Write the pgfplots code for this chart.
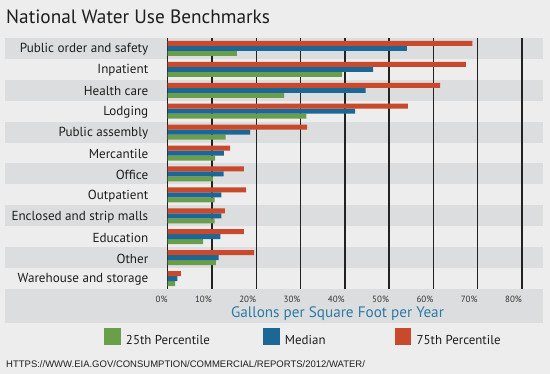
\documentclass[border=0pt]{standalone}
\usepackage{pgfplots}
\pgfplotsset{compat=1.18}
\usepackage{fontspec}
\setmainfont{PT Sans}
\newfontfamily\urlfont{Liberation Sans}
\definecolor{bg}{HTML}{EDEDED}
\definecolor{band}{HTML}{DCDDDE}
\definecolor{cred}{HTML}{C8492C}
\definecolor{cblue}{HTML}{1B6796}
\definecolor{cgreen}{HTML}{6B9E4A}
\definecolor{labblue}{HTML}{2C7AA6}
\definecolor{gridc}{HTML}{222222}
\definecolor{txt}{HTML}{1E1E1E}

\pgfplotstableread{
y  g     b     r
11 15.6  54.0  68.8
10 39.4  46.4  67.3
9  26.3  44.7  61.5
8  31.3  42.3  54.2
7  13.1  18.6  31.5
6  10.7  12.7  14.1
5  10.2  12.6  17.2
4  10.6  12.1  17.7
3  10.6  12.1  12.9
2  8.0   11.9  17.2
1  10.9  11.5  19.5
0  1.7   2.2   3.0
}\datatable

\begin{document}
\begin{tikzpicture}
\path[use as bounding box, fill=bg] (0,0) rectangle (550pt,374pt);
% alternating row bands
\foreach \k in {0,2,4,6,8,10}{
  \fill[band] (5pt,{(336-20.9167*(\k+1))*1pt}) rectangle (542.7pt,{(336-20.9167*\k)*1pt});
}
\fill[band] (5pt,51.3pt) rectangle (542.7pt,85pt);
\node[anchor=base west, inner sep=0pt, font=\fontsize{19.3}{24}\selectfont, text=txt] at (6pt,350pt) {National Water Use Benchmarks};
\node[anchor=base west, inner sep=0pt, font=\urlfont\fontsize{9.5}{11}\selectfont, text=txt] at (6pt,6.7pt) {HTTPS://WWW.EIA.GOV/CONSUMPTION/COMMERCIAL/REPORTS/2012/WATER/};
\begin{axis}[
  at={(167.7pt,85pt)}, anchor=south west, scale only axis,
  width=375pt, height=251pt,
  xmin=0, xmax=84.65, ymin=-0.5, ymax=11.5,
  xbar, bar width=5pt, clip=false,
  axis line style={draw=none}, tick style={draw=none},
  xtick={0,10,...,80},
  xticklabels={0\%,10\%,20\%,30\%,40\%,50\%,60\%,70\%,80\%},
  xmajorgrids, major grid style={gridc, line width=1.4pt},
  ytick={0,...,11},
  yticklabels={Warehouse and storage,Other,Education,Enclosed and strip malls,Outpatient,Office,Mercantile,Public assembly,Lodging,Health care,Inpatient,Public order and safety},
  yticklabel style={font=\fontsize{13.1}{15}\selectfont, inner sep=0pt, anchor=east, xshift=-15pt, yshift=-1pt, text=txt},
  xticklabel style={font=\fontsize{9}{10}\selectfont, inner sep=0pt, anchor=east, yshift=-10.3pt, text=black!80},
  xlabel={Gallons per Square Foot per Year},
  xlabel style={at={(axis description cs:0.4528,0)}, anchor=center, yshift=-24.3pt, font=\fontsize{15.2}{18}\selectfont, text=labblue, inner sep=0pt},
  legend columns=3,
  legend style={at={(axis description cs:-0.1691,-0.1924)}, anchor=west, draw=none, fill=none, inner sep=0pt, outer sep=0pt,
    font=\fontsize{12.9}{15}\selectfont, text=txt,
    /tikz/every odd column/.append style={column sep=5.3pt},
    /tikz/every even column/.append style={column sep=0pt},
    nodes={inner sep=0pt}},
  legend image code/.code={\fill[#1] (0pt,-3.9pt) rectangle (16.4pt,12.5pt);},
]
\addplot[fill=cgreen, draw=none, bar shift=-5pt] table[x=g, y=y] {\datatable};
\addplot[fill=cblue, draw=none, bar shift=0pt] table[x=b, y=y] {\datatable};
\addplot[fill=cred, draw=none, bar shift=5pt] table[x=r, y=y] {\datatable};
\legend{\makebox[137.3pt][l]{25th Percentile},\makebox[110pt][l]{Median},75th Percentile}
\end{axis}
\end{tikzpicture}
\end{document}
